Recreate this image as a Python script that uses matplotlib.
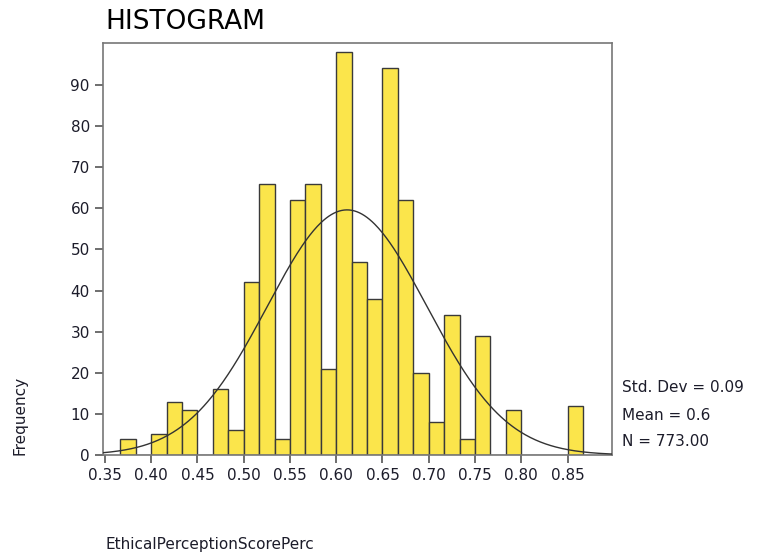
import numpy as np
import matplotlib
matplotlib.use("Agg")
import matplotlib.pyplot as plt

# Data: histogram bins of width 1/60 starting at 22/60
bin_width = 1 / 60
first_edge = 22 / 60
counts = [4, 0, 5, 13, 11, 0, 16, 6, 42, 66, 4, 62, 66, 21, 98, 47, 38, 94,
          62, 20, 8, 34, 4, 29, 0, 11, 0, 0, 0, 12]
x_ticks = [0.35, 0.40, 0.45, 0.50, 0.55, 0.60, 0.65, 0.70, 0.75, 0.80, 0.85]
y_ticks = [0, 10, 20, 30, 40, 50, 60, 70, 80, 90]
stats_text = ["Std. Dev = 0.09", "Mean = 0.6", "N = 773.00"]

counts = np.array(counts)
lefts = first_edge + bin_width * np.arange(len(counts))
centers = lefts + bin_width / 2
n = counts.sum()
mean = (centers * counts).sum() / n
sd = np.sqrt(((centers - mean) ** 2 * counts).sum() / (n - 1))

fig = plt.figure(figsize=(7.6, 5.57), dpi=100)
ax = fig.add_axes([103 / 760, 1 - 455 / 557, (612 - 103) / 760, (455 - 43) / 557])

bar_color = "#FBE54B"
edge = "#3a3a3a"
ax.bar(lefts, counts, width=bin_width, align="edge", color=bar_color,
       edgecolor=edge, linewidth=1.0, zorder=2)

xs = np.linspace(0.348, 0.898, 400)
ys = n * bin_width / (sd * np.sqrt(2 * np.pi)) * np.exp(-0.5 * ((xs - mean) / sd) ** 2)
ax.plot(xs, ys, color="#333333", linewidth=1.0, zorder=3)

ax.set_xlim(0.348, 0.898)
ax.set_ylim(0, 100.2)
ax.set_xticks(x_ticks)
ax.set_xticklabels([f"{t:.2f}" for t in x_ticks])
ax.set_yticks(y_ticks)
tick_col = "#1c1c2a"
ax.tick_params(axis="both", direction="out", length=6, width=1.2, color="#555555",
               labelsize=11, labelcolor=tick_col)
for s in ax.spines.values():
    s.set_color("#777777")
    s.set_linewidth(1.2)

fig.text(105 / 760, 1 - 22 / 557, "HISTOGRAM", fontsize=19, color="black",
         ha="left", va="center")
fig.text(20 / 760, 1 - 415 / 557, "Frequency", fontsize=11, color=tick_col,
         rotation=90, ha="center", va="center")
fig.text(105 / 760, 1 - 545 / 557, "EthicalPerceptionScorePerc", fontsize=11,
         color=tick_col, ha="left", va="center")
for i, t in enumerate(stats_text):
    fig.text(622 / 760, 1 - (388 + 27 * i) / 557, t, fontsize=11, color=tick_col,
             ha="left", va="center")

fig.savefig("out.png", dpi=100)
